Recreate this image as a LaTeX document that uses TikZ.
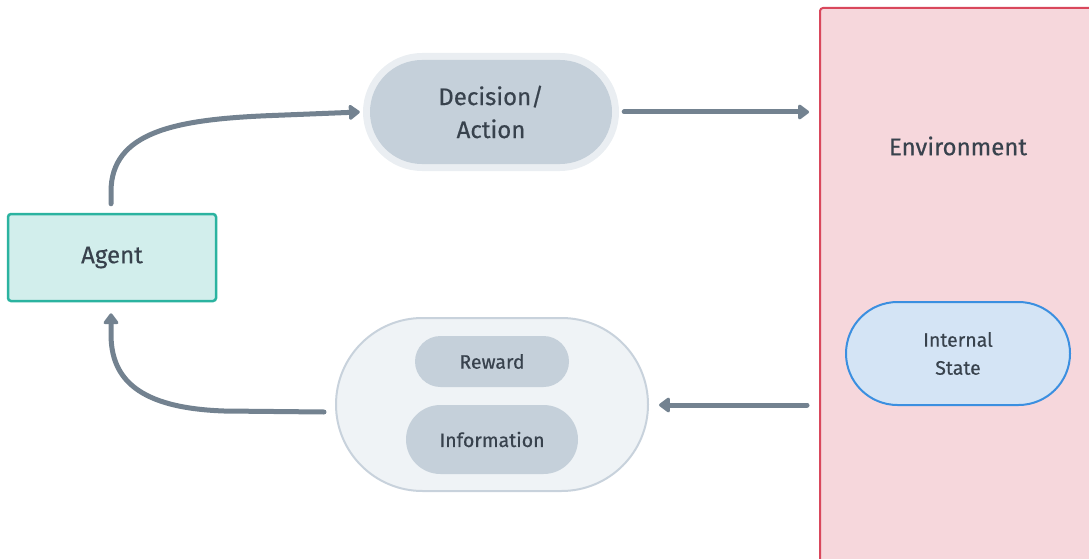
\documentclass[tikz,border=0pt]{standalone}
\usepackage{fontspec}
\setmainfont{Fira Sans}[BoldFont={Fira Sans}, BoldFeatures={FakeBold=0.5}]
\usepackage{tikz}
\usetikzlibrary{positioning, arrows.meta}
\definecolor{arrowgray}{HTML}{738290}
\definecolor{inktext}{HTML}{38424D}
\definecolor{agentfill}{HTML}{D2EEEC}
\definecolor{agentline}{HTML}{2BB3A0}
\definecolor{pillfill}{HTML}{C5D0DA}
\definecolor{halogray}{HTML}{EAEEF2}
\definecolor{envfill}{HTML}{F6D7DC}
\definecolor{envline}{HTML}{D9475C}
\definecolor{statefill}{HTML}{D4E4F5}
\definecolor{stateline}{HTML}{3B8FE0}
\definecolor{groupfill}{HTML}{EFF3F6}
\definecolor{groupline}{HTML}{C8D2DC}

\tikzset{
  bigtext/.style={font=\fontsize{24}{33}\selectfont\bfseries, text=inktext, align=center},
  smalltext/.style={font=\fontsize{19.5}{28}\selectfont\bfseries, text=inktext, align=center},
  flow/.style={draw=arrowgray, line width=5pt, line cap=round,
    -{Triangle[length=12pt, width=17pt, round]}},
}

\begin{document}
\begin{tikzpicture}[x=1pt, y=-1pt]
        \useasboundingbox (0,0) rectangle (1089,559);
        \clip (0,0) rectangle (1089,559);

        % Umgebung (Environment)
        \node[draw=envline, fill=envfill, line width=2pt, rounded corners=3pt,
              minimum width=280pt, minimum height=562pt, inner sep=0pt] (env) at (960,289) {};
        \node[bigtext] (envtxt) at (958,146) {Environment};
        \node[draw=stateline, fill=statefill, line width=2pt, rounded corners=51.5pt,
              minimum width=224pt, minimum height=103pt, inner sep=0pt, smalltext] (state) at (958,353.5) {Internal\\State};

        % Agent
        \node[draw=agentline, fill=agentfill, line width=2.5pt, rounded corners=3pt,
              minimum width=208pt, minimum height=87pt, inner sep=0pt, bigtext] (agent) at (112,257.5) {Agent};

        % Entscheidung
        \node[fill=pillfill, preaction={draw=halogray, line width=14pt}, rounded corners=52pt,
              minimum width=242pt, minimum height=104pt, inner sep=0pt, bigtext] (decide) at (491,112) {Decision/\\Action};

        % Rueckmeldung
        \node[draw=groupline, fill=groupfill, line width=2pt, rounded corners=86.5pt,
              minimum width=312pt, minimum height=173pt, inner sep=0pt] (feedback) at (492,404.5) {};
        \node[fill=pillfill, rounded corners=25.5pt, minimum width=154pt, minimum height=51pt,
              inner sep=0pt, smalltext] (reward) at (492,361.5) {Reward};
        \node[fill=pillfill, rounded corners=34.5pt, minimum width=172pt, minimum height=69pt,
              inner sep=0pt, smalltext] (info) at (492,439.5) {Information};

        % Pfeile
        \draw[flow] ([xshift=-1pt, yshift=9pt]agent.north) -- ++(0,-12)
              .. controls +(0,-60) and +(-90,4) .. ++(155,-76) -- ([xshift=-10pt]decide.west);
        \draw[flow] ([xshift=12pt]decide.east) -- ([xshift=-10pt]env.west |- decide.east);
        \draw[flow] ([xshift=-12pt]env.west |- 0,405) -- ([xshift=10pt]feedback.east |- 0,405);
        \draw[flow] ([xshift=-11pt]feedback.west |- 0,412) -- ++(-100,-1)
              .. controls +(-85,-3) and +(0,45) .. ([xshift=-1pt, yshift=-32pt]agent.south)
              -- ([xshift=-1pt, yshift=-11pt]agent.south);
\end{tikzpicture}
\end{document}
